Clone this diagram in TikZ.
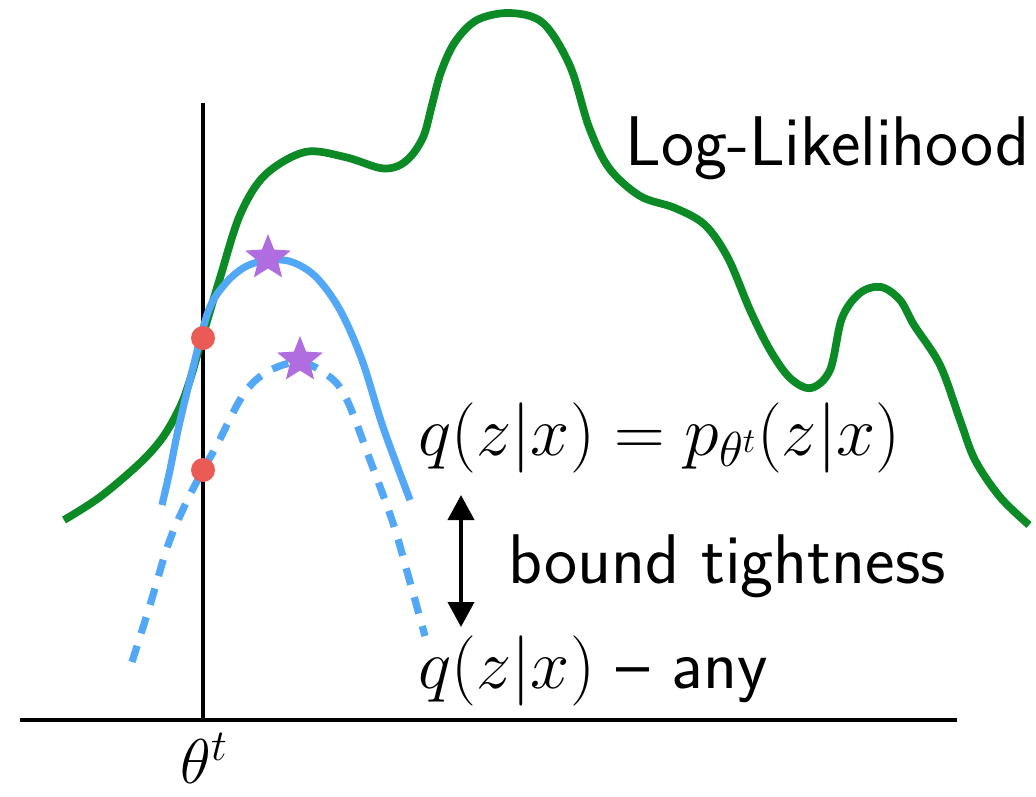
\documentclass[tikz,border=0pt]{standalone}
\usepackage{fix-cm}
\usetikzlibrary{arrows.meta,shapes.geometric}
\definecolor{cll}{HTML}{0B8A26}
\definecolor{cq}{HTML}{52A8F7}
\definecolor{cdot}{HTML}{EA5B55}
\definecolor{cstar}{HTML}{B06DE0}
\newcommand{\lblfont}{\fontsize{40}{48}\selectfont}

\begin{document}
\begin{tikzpicture}[
  x=0.2mm, y=-0.2mm,
  font=\lblfont,
  axis/.style={line width=0.85mm},
  loglik/.style={draw=cll, line width=1.55mm},
  tight/.style={draw=cq, line width=1.45mm},
  loose/.style={tight, dash pattern=on 3.4mm off 2.6mm},
  touch/.style={circle, fill=cdot, inner sep=0pt, minimum size=4.8mm},
  peak/.style={star, star points=5, star point ratio=2.3, fill=cstar, inner sep=0pt, minimum size=9.6mm},
  gap/.style={{Triangle[width=5.2mm,length=5mm]}-{Triangle[width=5.2mm,length=5mm]}, line width=0.8mm},
  lbl/.style={inner sep=0pt, anchor=base west, font=\lblfont\sffamily},
]
\useasboundingbox (0,0) rectangle (1036,796);

% ------------------------------------------------------------ axes
\coordinate (origin) at (203,720);
\coordinate (ytop) at (203,103);
\coordinate (xleft) at (20,720);
\coordinate (xright) at (957,720);
\draw[axis] (origin) -- (ytop);
\draw[axis] (xleft) -- (xright);
\node[inner sep=0pt, anchor=base, font=\fontsize{36}{42}\selectfont] (thetat) at (204,783) {$\theta^t$};

% ------------------------------------------------------------ log-likelihood
\draw[loglik] plot[smooth, tension=0.55] coordinates {
  (64,520) (100,497) (140,463) (163,437) (180,407) (190,380) (203,335)
  (220,278) (240,215) (265,175) (305,152) (345,157) (380,168) (398,166)
  (412,155) (424,135) (432,105) (441,72) (455,42) (477,20) (510,13)
  (543,23) (570,66) (589,127) (609,168) (640,196) (675,208) (705,225)
  (728,258) (750,310) (770,350) (790,378) (811,388) (830,370) (842,318)
  (860,293) (881,287) (900,300) (914,325) (940,365) (960,420) (975,460)
  (1000,497) (1029,525)};
\node[lbl] (ll) at (625,165) {Log-Likelihood};

% ------------------------------------------------------------ lower bounds
\draw[tight] plot[smooth, tension=0.55] coordinates {
  (162,505) (170,470) (178,430) (190,380) (208,312) (225,284) (245,267)
  (268,260) (292,262) (316,277) (340,310) (362,360) (383,427) (410,500)};
\draw[loose] plot[smooth, tension=0.55] coordinates {
  (132,662) (150,605) (168,545) (185,505) (203,470) (217,445) (243,395)
  (267,372) (300,362) (330,377) (347,400) (370,460) (393,523) (408,575)
  (425,636)};

\node[touch] (hit1) at (203,338) {};
\node[touch] (hit2) at (203,470) {};
\node[peak] (max1) at (268,258) {};
\node[peak] (max2) at (300,360) {};

% ------------------------------------------------------------ labels
\node[lbl] (qexact) at (418,455) {$q(z|x) = p_{\theta^t}(z|x)$};
\node[lbl] (qany) at (418,688) {$q(z|x)$ -- any};
\coordinate (gaptop) at (461,495);
\coordinate (gapbot) at (461,627);
\draw[gap] (gaptop) -- (gapbot);
\node[lbl] (tightness) at (508,583) {bound tightness};

\end{tikzpicture}
\end{document}
